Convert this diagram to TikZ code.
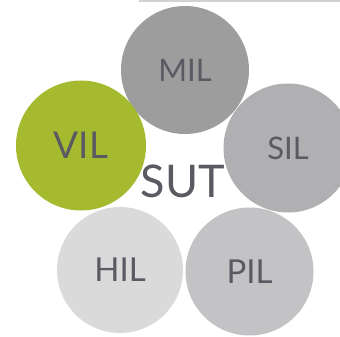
\documentclass[tikz,border=0pt]{standalone}
\usepackage{fontspec}
\setmainfont{Lato}
\begin{document}
\begin{tikzpicture}[x=1pt,y=-1pt,
  disc/.style={circle,minimum size=#1,inner sep=0pt,text=labelgray},
  lbl/.style={text=labelgray,inner sep=0pt}]
\definecolor{labelgray}{HTML}{5B5A62}
\definecolor{milgray}{HTML}{9D9D9E}
\definecolor{vilgreen}{HTML}{A6BA2F}
\definecolor{silgray}{HTML}{B0AFB1}
\definecolor{hilgray}{HTML}{DADADB}
\definecolor{pilgray}{HTML}{C3C2C4}
\definecolor{rulegray}{HTML}{D2D2D2}
\useasboundingbox (0,0) rectangle (340,337);
% thin rule along the top edge
\fill[rulegray] (139,0) rectangle (340,2.5);
% the five discs
\node[disc=128pt,fill=milgray,font=\fontsize{31}{31}\selectfont] (mil) at (185,70) {MIL};
\node[disc=130pt,fill=vilgreen,font=\fontsize{37}{37}\selectfont] (vil) at (81,145.5) {VIL};
\node[disc=129pt,fill=silgray,font=\fontsize{31}{31}\selectfont] (sil) at (288,148) {SIL};
\node[disc=126pt,fill=hilgray,font=\fontsize{33}{33}\selectfont] (hil) at (120,270) {HIL};
\node[disc=128pt,fill=pilgray,font=\fontsize{33}{33}\selectfont] (pil) at (249.5,271.5) {PIL};
% centre label
\node[lbl,font=\fontsize{45}{45}\selectfont] (sut) at (183,181) {SUT};
\end{tikzpicture}
\end{document}
